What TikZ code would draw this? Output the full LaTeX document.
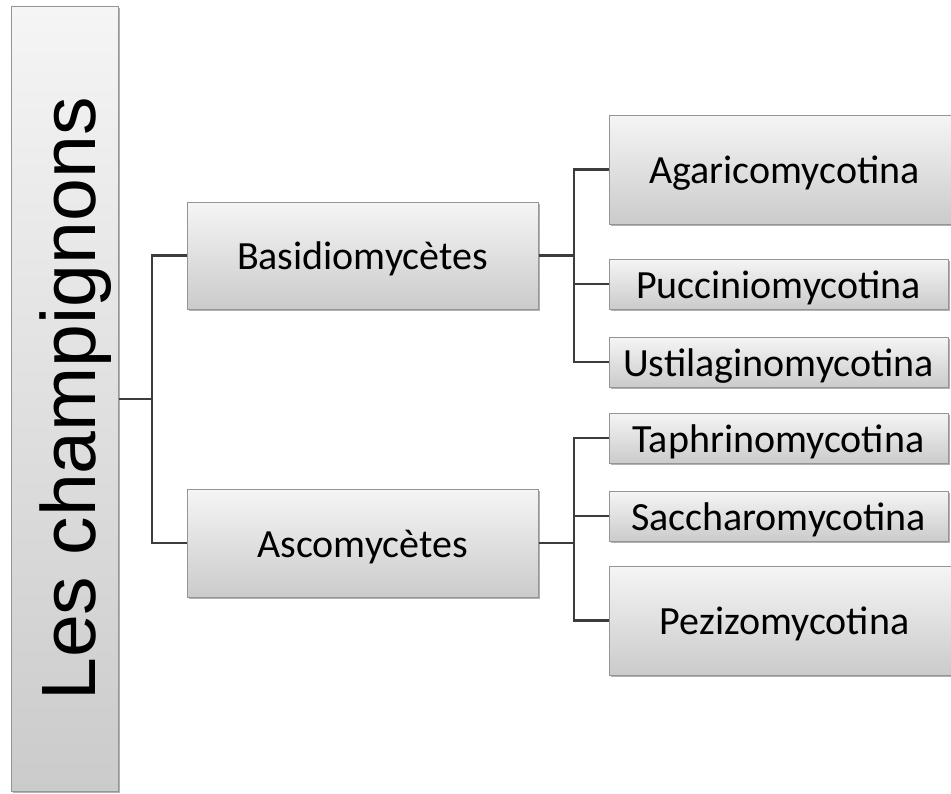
\documentclass[tikz,border=0pt]{standalone}
\usepackage{fontspec}
\setmainfont{Carlito}
\newfontfamily\titlefont{Liberation Sans}
\usetikzlibrary{shadows}
\definecolor{boxtop}{HTML}{F5F5F5}
\definecolor{boxbot}{HTML}{CBCBCB}
\definecolor{boxline}{HTML}{959595}
\definecolor{linecol}{HTML}{3C3C3C}
\begin{document}
\begin{tikzpicture}[x=1pt,y=1pt,
  box/.style={draw=boxline, line width=1pt, top color=boxtop, bottom color=boxbot,
    inner sep=0pt, align=center, font=\fontsize{40}{48}\selectfont,
    text height=38pt, text depth=10pt,
    drop shadow={shadow xshift=1.5pt, shadow yshift=-1.5pt, fill=black, opacity=0.3}},
  conn/.style={draw=linecol, line width=2.5pt}
]
\clip (0,0) rectangle (951,-793);
\fill[white] (0,0) rectangle (951,-793);

% root
\node[box, minimum width=107pt, minimum height=785pt] (root) at (64.5,-398.5) {};
\node[rotate=90, anchor=base, font=\titlefont\fontsize{77}{90}\selectfont] (title) at (95,-399) {Les champignons};

% level 1
\node[box, minimum width=351pt, minimum height=107pt] (basidio) at (362.5,-255.5) {Basidiomycètes};
\node[box, minimum width=351pt, minimum height=108pt] (asco) at (362.5,-543) {Ascomycètes};

% level 2
\node[box, minimum width=351pt, minimum height=109pt] (agarico) at (784.5,-169.5) {Agaricomycotina};
\node[box, minimum width=339pt, minimum height=50pt] (puccinio) at (778.5,-284) {Pucciniomycotina};
\node[box, minimum width=339pt, minimum height=50pt] (ustilago) at (778.5,-362) {Ustilaginomycotina};
\node[box, minimum width=339pt, minimum height=50pt] (taphrino) at (778.5,-438) {Taphrinomycotina};
\node[box, minimum width=339pt, minimum height=50pt] (saccharo) at (778.5,-516) {Saccharomycotina};
\node[box, minimum width=351pt, minimum height=109pt] (pezizo) at (784.5,-620.5) {Pezizomycotina};

% junctions
\coordinate (j1) at (152,-399);
\coordinate (j2) at (574,-255.5);
\coordinate (j3) at (574,-543);

% connectors
\draw[conn] (root.east |- j1) -- (j1);
\draw[conn] (basidio.west) -| (j1) |- (asco.west);
\draw[conn] (basidio.east) -- (j2);
\draw[conn] (agarico.west) -| (j2) |- (ustilago.west);
\draw[conn] (j2 |- puccinio.west) -- (puccinio.west);
\draw[conn] (asco.east) -- (j3);
\draw[conn] (taphrino.west) -| (j3) |- (pezizo.west);
\draw[conn] (j3 |- saccharo.west) -- (saccharo.west);
\end{tikzpicture}
\end{document}
